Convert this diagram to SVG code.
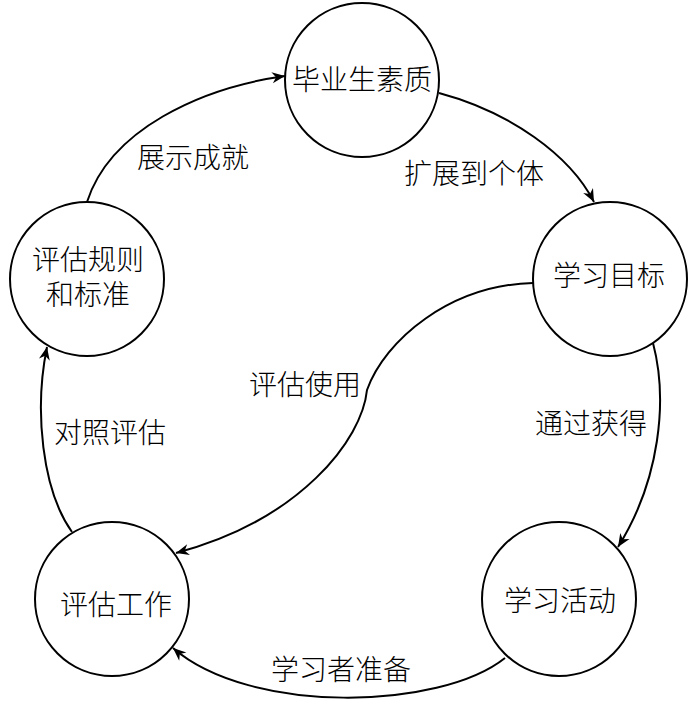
<svg xmlns="http://www.w3.org/2000/svg" width="700" height="714" viewBox="0 0 700 714">
<style>
.node circle{fill:#fff;stroke:#000;stroke-width:2}
text{font-family:"Liberation Serif","Noto Sans CJK SC",serif;font-size:28px;font-weight:300;fill:#000;text-anchor:middle}
.edge{fill:none;stroke:#000;stroke-width:2;marker-end:url(#arr)}
</style>
<defs>
<marker id="arr" markerUnits="userSpaceOnUse" markerWidth="16" markerHeight="14" viewBox="-14 -7 16 14" refX="0" refY="0" orient="auto">
<path d="M0,0 L-13,-5.5 L-9,0 L-13,5.5 Z" fill="#000"/>
</marker>
</defs>
<rect width="700" height="714" fill="#fff"/>
<g id="connectors">
<path class="edge" d="M87,202 C110,130 200,88 285,76"/>
<text x="193" y="168">展示成就</text>
<path class="edge" d="M439,93 C510,112 570,155 594,202"/>
<text x="474" y="184">扩展到个体</text>
<path class="edge" d="M533,283 C450,285 385,340 367,390 C362,440 300,520 176,553"/>
<text x="305" y="395">评估使用</text>
<path class="edge" d="M653,343 C668,400 660,480 618,547"/>
<text x="591" y="434">通过获得</text>
<path class="edge" d="M505,658 C440,710 250,715 173,648"/>
<text x="341" y="680">学习者准备</text>
<path class="edge" d="M72,532 C42,490 34,410 47,347"/>
<text x="110" y="443">对照评估</text>
</g>
<g id="n1" class="node"><circle cx="362" cy="80" r="77"/><text x="362" y="90">毕业生素质</text></g>
<g id="n2" class="node"><circle cx="610" cy="279" r="77"/><text x="609" y="286">学习目标</text></g>
<g id="n3" class="node"><circle cx="559" cy="599" r="77"/><text x="560" y="611">学习活动</text></g>
<g id="n4" class="node"><circle cx="112" cy="599" r="77"/><text x="116" y="615">评估工作</text></g>
<g id="n5" class="node"><circle cx="87" cy="279" r="77"/><text x="88" y="270">评估规则</text><text x="88" y="305">和标准</text></g>
</svg>
